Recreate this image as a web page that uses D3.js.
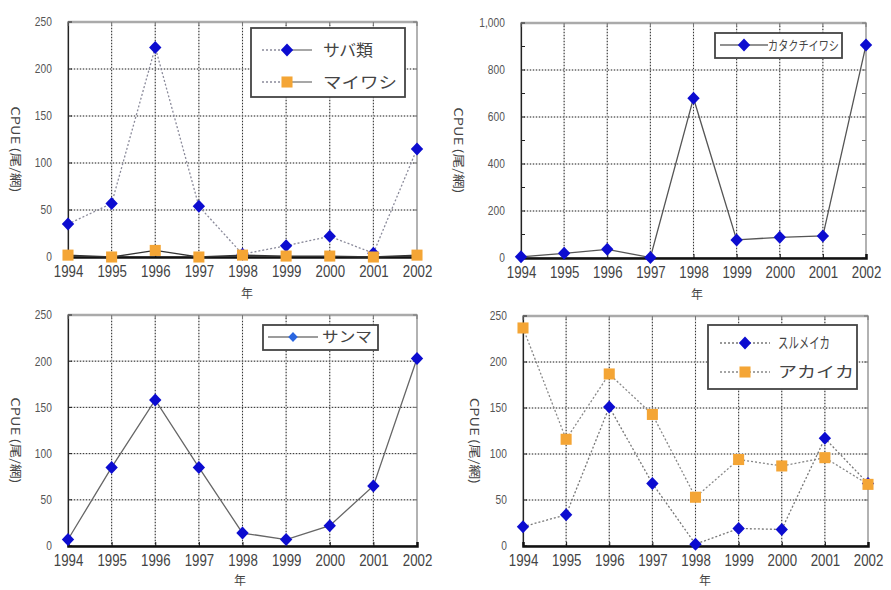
<!DOCTYPE html>
<html>
<head>
<meta charset="utf-8">
<script src="https://cdn.jsdelivr.net/npm/d3@7"></script>
<style>
  body { margin: 0; background: #fff; }
  svg { display: block; }
  .num { font-family: "Liberation Sans", "DejaVu Sans", sans-serif; }
  .jp { font-family: "Noto Sans CJK JP", sans-serif; fill: #444; }
</style>
</head>
<body>
<svg id="chart" width="891" height="590"></svg>
<script>
// data
const years = [1994, 1995, 1996, 1997, 1998, 1999, 2000, 2001, 2002];
const sabaValues = [35, 57, 223, 54, 3, 12, 22, 4, 115];
const maiwashiValues = [2, 0, 7, 0, 2, 1, 1, 0, 2];
const katakuchiValues = [5, 20, 37, 2, 680, 77, 88, 94, 906];
const sanmaValues = [7, 85, 158, 85, 14, 7, 22, 65, 203];
const surumeValues = [21, 34, 151, 68, 2, 19, 18, 117, 68];
const akaikaValues = [237, 116, 187, 143, 53, 94, 87, 96, 67];
const ticks250 = [0, 50, 100, 150, 200, 250];
const ticks1000 = [0, 200, 400, 600, 800, 1000];

const BLUE = "#0c0cd0", ORANGE = "#f4a535";

const panels = [
  { box: [68, 417, 22, 257], yMax: 250, yTicks: ticks250, minor: null,
    titleX: 15, xLabel: [247, 298],
    series: [
      { name: "サバ類", values: sabaValues, color: BLUE, shape: "diamond", dash: "2,2", stroke: "#8a8a9a" },
      { name: "マイワシ", values: maiwashiValues, color: ORANGE, shape: "square", dash: null, stroke: "#333" }
    ],
    legend: { rect: [251, 28, 154, 69], lineX: [262, 312], textX: 323, rows: [50, 82], size: 16, lens: [50, 74], split: true } },
  { box: [521, 866, 23, 258], yMax: 1000, yTicks: ticks1000, minor: 100,
    titleX: 458, xLabel: [697, 299],
    series: [
      { name: "カタクチイワシ", values: katakuchiValues, color: BLUE, shape: "diamond", dash: null, stroke: "#555" }
    ],
    legend: { rect: [715, 33, 127, 25], lineX: [720, 768], textX: 768, rows: [45], size: 13, lens: [71], split: false } },
  { box: [68, 417, 315, 546], yMax: 250, yTicks: ticks250, minor: null,
    titleX: 15, xLabel: [240, 585],
    series: [
      { name: "サンマ", values: sanmaValues, color: BLUE, shape: "diamond", dash: null, stroke: "#666", legendColor: "#2a66e0" }
    ],
    legend: { rect: [263, 325, 115, 25], lineX: [268, 318], textX: 322, rows: [337], size: 15, lens: [50], split: false } },
  { box: [523, 868, 316, 546], yMax: 250, yTicks: ticks250, minor: null,
    titleX: 474, xLabel: [705, 585],
    series: [
      { name: "スルメイカ", values: surumeValues, color: BLUE, shape: "diamond", dash: "2,2", stroke: "#777" },
      { name: "アカイカ", values: akaikaValues, color: ORANGE, shape: "square", dash: "2,2", stroke: "#888" }
    ],
    legend: { rect: [708, 325, 149, 64], lineX: [720, 770], textX: 778, rows: [343, 372], size: 15, lens: [52, 76], split: false } }
];

const svg = d3.select("#chart");

function marker(sel, shape, color, s) {
  if (shape === "diamond") {
    sel.append("path").attr("d", `M0,${-s}L${s * 0.95},0L0,${s}L${-s * 0.95},0Z`).attr("fill", color);
  } else {
    sel.append("rect").attr("x", -s * 0.85).attr("y", -s * 0.85)
      .attr("width", s * 1.7).attr("height", s * 1.7).attr("fill", color);
  }
}

panels.forEach(p => {
  const [x0, x1, y0, y1] = p.box;
  const x = d3.scalePoint().domain(years).range([x0, x1]);
  const y = d3.scaleLinear().domain([0, p.yMax]).range([y1, y0]);
  const g = svg.append("g");

  // grid
  const grid = g.append("g");
  years.slice(1, -1).forEach(yr => {
    grid.append("line").attr("x1", x(yr)).attr("x2", x(yr)).attr("y1", y0).attr("y2", y1)
      .attr("stroke", "#c8c8c8").attr("stroke-width", 1.2);
    grid.append("line").attr("x1", x(yr)).attr("x2", x(yr)).attr("y1", y0).attr("y2", y1)
      .attr("stroke", "#333").attr("stroke-dasharray", "1,2");
  });
  p.yTicks.slice(1, -1).forEach(v => {
    grid.append("line").attr("x1", x0).attr("x2", x1).attr("y1", y(v)).attr("y2", y(v))
      .attr("stroke", "#c8c8c8").attr("stroke-width", 1.2);
    grid.append("line").attr("x1", x0).attr("x2", x1).attr("y1", y(v)).attr("y2", y(v))
      .attr("stroke", "#333").attr("stroke-dasharray", "1,2");
  });

  // frame
  g.append("rect").attr("x", x0).attr("y", y0).attr("width", x1 - x0).attr("height", y1 - y0)
    .attr("fill", "none").attr("stroke", "#999").attr("stroke-width", 1.5);
  g.append("line").attr("x1", x0).attr("x2", x1).attr("y1", y0).attr("y2", y0)
    .attr("stroke", "#aaa").attr("stroke-width", 2.5);

  // axes
  const fmt = d3.format(",");
  const ya = g.append("g").attr("transform", `translate(${x0},0)`)
    .call(d3.axisLeft(y).tickValues(p.yTicks).tickFormat(fmt).tickSize(0).tickPadding(19));
  ya.select(".domain").attr("stroke", "#222").attr("stroke-width", 1.2);
  ya.selectAll("text").attr("class", "num").attr("font-size", 12).attr("fill", "#555")
    .attr("transform", "scale(0.85,1)");
  // inner ticks
  const minorVals = p.minor ? d3.range(0, p.yMax + 1, p.minor) : p.yTicks;
  minorVals.forEach(v => {
    g.append("line").attr("x1", x0).attr("x2", x0 + 4).attr("y1", y(v)).attr("y2", y(v)).attr("stroke", "#222");
    g.append("line").attr("x1", x1).attr("x2", x1 - 4).attr("y1", y(v)).attr("y2", y(v)).attr("stroke", "#777");
  });
  years.forEach(yr => {
    g.append("line").attr("x1", x(yr)).attr("x2", x(yr)).attr("y1", y0).attr("y2", y0 + 4).attr("stroke", "#777");
  });

  const xa = g.append("g").attr("transform", `translate(0,${y1})`)
    .call(d3.axisBottom(x).tickSize(-4).tickPadding(8));
  xa.select(".domain").attr("stroke", "#111").attr("stroke-width", 2.5);
  xa.selectAll(".tick line").attr("stroke", "#111");
  xa.selectAll("text").attr("class", "num").attr("font-size", 17).attr("fill", "#444")
    .attr("transform", "scale(0.78,1)");

  // axis titles
  g.append("text").attr("class", "jp").attr("font-size", 12)
    .attr("transform", `translate(${p.titleX},${(y0 + y1) / 2 + 10}) rotate(90)`)
    .attr("text-anchor", "middle").attr("dy", "0.35em")
    .attr("textLength", 86).attr("lengthAdjust", "spacingAndGlyphs").text("CPUE (尾/網)");
  g.append("text").attr("class", "jp").attr("font-size", 12)
    .attr("x", p.xLabel[0]).attr("y", p.xLabel[1]).attr("text-anchor", "middle").text("年");

  // series
  const line = d3.line().x((d, i) => x(years[i])).y(d => y(d));
  p.series.forEach(s => {
    g.append("path").datum(s.values).attr("d", line).attr("fill", "none")
      .attr("stroke", s.stroke).attr("stroke-width", 1.3)
      .attr("stroke-dasharray", s.dash);
  });
  p.series.forEach(s => {
    s.values.forEach((v, i) => {
      const m = g.append("g").attr("transform", `translate(${x(years[i])},${y(v)})`);
      marker(m, s.shape, s.color, 6.5);
    });
  });

  // legend
  const L = p.legend;
  const lg = g.append("g");
  lg.append("rect").attr("x", L.rect[0]).attr("y", L.rect[1]).attr("width", L.rect[2]).attr("height", L.rect[3])
    .attr("fill", "#fff").attr("stroke", "#444").attr("stroke-width", 1.8);
  p.series.forEach((s, i) => {
    const ry = L.rows[i];
    const mx = (L.lineX[0] + L.lineX[1]) / 2;
    lg.append("line").attr("x1", L.lineX[0]).attr("x2", mx).attr("y1", ry).attr("y2", ry)
      .attr("stroke", L.split ? "#8a8a9a" : s.stroke).attr("stroke-dasharray", s.dash || (L.split ? "2,2" : null)).attr("stroke-width", 1.3);
    lg.append("line").attr("x1", mx).attr("x2", L.lineX[1]).attr("y1", ry).attr("y2", ry)
      .attr("stroke", L.split ? "#777" : s.stroke).attr("stroke-dasharray", L.split ? null : s.dash).attr("stroke-width", 1.3);
    const m = lg.append("g").attr("transform", `translate(${mx},${ry})`);
    marker(m, s.shape, s.legendColor || s.color, s.legendColor ? 5 : 6.5);
    lg.append("text").attr("class", "jp").attr("x", L.textX).attr("y", ry).attr("dy", "0.36em")
      .attr("font-size", L.size).attr("textLength", L.lens[i]).attr("lengthAdjust", "spacingAndGlyphs")
      .text(s.name);
  });
});
</script>
</body>
</html>
